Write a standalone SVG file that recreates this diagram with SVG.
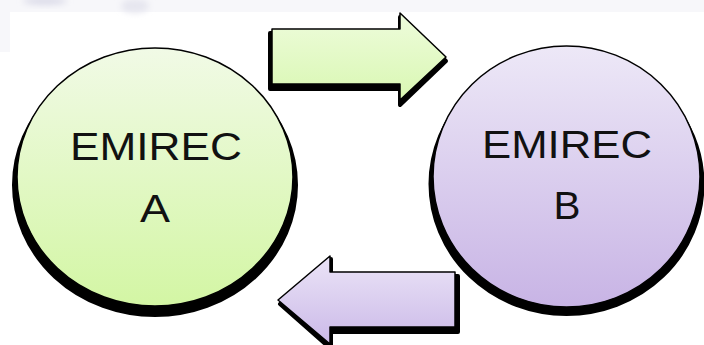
<svg xmlns="http://www.w3.org/2000/svg" width="704" height="345" viewBox="0 0 704 345">
<defs>
<linearGradient id="gA" x1="0" y1="0" x2="0" y2="1"><stop offset="0" stop-color="#f1fae6"/><stop offset="1" stop-color="#d3f6a4"/></linearGradient>
<linearGradient id="gB" x1="0" y1="0" x2="0" y2="1"><stop offset="0" stop-color="#ede8f7"/><stop offset="1" stop-color="#c8b4e5"/></linearGradient>
<linearGradient id="gGA" x1="0" y1="0" x2="0" y2="1"><stop offset="0" stop-color="#eefcdc"/><stop offset="1" stop-color="#d9f7b2"/></linearGradient>
<linearGradient id="gPA" x1="0" y1="0" x2="0" y2="1"><stop offset="0" stop-color="#ebe4f7"/><stop offset="1" stop-color="#cbb9e8"/></linearGradient>
<filter id="soft" x="-50%" y="-50%" width="200%" height="200%"><feGaussianBlur stdDeviation="3"/></filter>
</defs>
<style>
.shadow{fill:#000;stroke:#000;stroke-width:4;stroke-linejoin:round}
.edge{stroke:#000;stroke-width:1.5;stroke-linejoin:round}
.lbl{font-family:"Liberation Sans",Arial,sans-serif;font-size:38px;fill:#111;text-anchor:middle}
</style>
<rect width="704" height="345" fill="#fff"/>
<g id="background">
<rect x="0" y="0" width="704" height="12" fill="#f7f7fa"/>
<rect x="0" y="12" width="10" height="40" fill="#f7f7fa"/>
<ellipse cx="45" cy="1" rx="22" ry="4" fill="#dcdce9" filter="url(#soft)"/>
<ellipse cx="135" cy="6" rx="14" ry="7" fill="#e6e6ef" filter="url(#soft)"/>
</g>
<g id="connectors">
<g id="arrow-a-to-b">
<path class="shadow" d="M270,33 L400,33 L400,17 L446,61 L400,105 L400,89 L270,89 Z"/>
<path class="edge" fill="url(#gGA)" d="M272,29 L400,29 L400,13 L446,57 L400,100 L400,84 L272,84 Z"/>
</g>
<g id="arrow-b-to-a">
<path class="shadow" d="M458,276 L331,276 L331,259 L280,304 L331,349 L331,332 L458,332 Z"/>
<path class="edge" fill="url(#gPA)" d="M455,272 L330,272 L330,256 L278,300 L330,344 L330,327 L455,327 Z"/>
</g>
</g>
<g id="node-a">
<ellipse class="shadow" cx="155" cy="185" rx="141" ry="130"/>
<ellipse class="edge" cx="155" cy="177" rx="138" ry="129" fill="url(#gA)"/>
<text class="lbl" x="156" y="160" textLength="172" lengthAdjust="spacingAndGlyphs">EMIREC</text>
<text class="lbl" x="155" y="222" textLength="30" lengthAdjust="spacingAndGlyphs">A</text>
</g>
<g id="node-b">
<ellipse class="shadow" cx="566.5" cy="184" rx="136" ry="130"/>
<ellipse class="edge" cx="566.5" cy="176.5" rx="133.5" ry="130.5" fill="url(#gB)"/>
<text class="lbl" x="567" y="158" textLength="170" lengthAdjust="spacingAndGlyphs">EMIREC</text>
<text class="lbl" x="567" y="219" textLength="27" lengthAdjust="spacingAndGlyphs">B</text>
</g>
</svg>
